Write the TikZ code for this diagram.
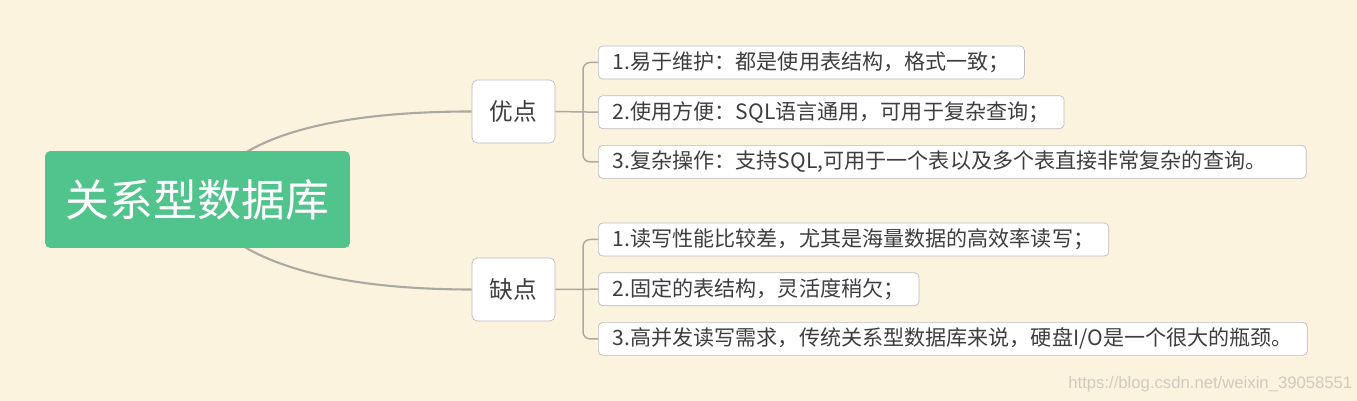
\documentclass[tikz,border=0pt]{standalone}
\usepackage{fontspec}
\setmainfont{Liberation Sans}
\newfontfamily\cjkfont{Noto Sans CJK SC}
\usepackage{tikz}
\usetikzlibrary{positioning, calc, backgrounds}
\definecolor{mapBg}{RGB}{251,243,221}
\definecolor{rootFill}{RGB}{81,196,141}
\definecolor{boxEdge}{RGB}{188,188,188}
\definecolor{linkCol}{RGB}{172,168,162}
\definecolor{txtCol}{RGB}{62,62,62}
\definecolor{markCol}{RGB}{208,203,192}

\begin{document}
\begin{tikzpicture}[
    x=0.02cm, y=-0.02cm,
    node distance=0.32cm and 0.3cm,
    rootbox/.style={rectangle, fill=rootFill, rounded corners=3pt, minimum width=6.1cm, minimum height=1.94cm, text=white, font=\cjkfont\fontsize{25}{30}\selectfont},
    branch/.style={rectangle, draw=boxEdge, fill=white, rounded corners=3pt, minimum width=1.66cm, minimum height=1.26cm, text=txtCol, font=\cjkfont\fontsize{13.5}{16}\selectfont},
    leaf/.style={rectangle, draw=boxEdge, fill=white, rounded corners=2.5pt, minimum height=0.66cm, inner xsep=0.29cm, inner ysep=0pt, text=txtCol, font=\cjkfont\fontsize{12}{14}\selectfont},
    link/.style={draw=linkCol, line width=1.2pt},
    twig/.style={draw=linkCol, line width=0.85pt, rounded corners=4pt},
    wmark/.style={text=markCol, font=\fontsize{9.5}{11}\selectfont, inner sep=0pt}
]
\useasboundingbox (0,0) rectangle (1357,401);

% Root
\node[rootbox] (root) at (197.5,199.5) {关系型数据库};

% Pros / cons
\node[branch] (pro) at (513.5,111.5) {优点};
\node[branch] (con) at (513.5,289.5) {缺点};

% Pros leaves
\node[leaf, anchor=west] (p1) at (598,62.5) {1.易于维护：都是使用表结构，格式一致；};
\node[leaf, below right=0.32cm and 0cm of p1.south west] (p2) {2.使用方便：SQL语言通用，可用于复杂查询；};
\node[leaf, below right=0.32cm and 0cm of p2.south west, text width=13.58cm, align=left] (p3) {3.复杂操作：支持SQL,可用于一个表以及多个表直接非常复杂的查询。};

% Cons leaves
\node[leaf, anchor=west] (c1) at (598,239.5) {1.读写性能比较差，尤其是海量数据的高效率读写；};
\node[leaf, below right=0.32cm and 0cm of c1.south west] (c2) {2.固定的表结构，灵活度稍欠；};
\node[leaf, below right=0.32cm and 0cm of c2.south west] (c3) {3.高并发读写需求，传统关系型数据库来说，硬盘I/O是一个很大的瓶颈。};

% Watermark
\node[wmark, anchor=west] (wm) at (1068,384) {https://blog.csdn.net/weixin\_39058551};

% Background and curves
\begin{pgfonlayer}{background}
\fill[mapBg] (0,0) rectangle (1357,401);
\draw[link] ($(root.north)+(48,2)$) .. controls (300,120) and (390,111.5) .. (pro.west);
\draw[link] ($(root.south)+(46,-2)$) .. controls (300,280) and (390,289.5) .. (con.west);
\end{pgfonlayer}

% Brackets
\draw[twig] (pro.east) -- (p2.west);
\draw[twig] (p1.west) -- ++(-15,0) |- (p3.west);
\draw[twig] (con.east) -- (c2.west);
\draw[twig] (c1.west) -- ++(-15,0) |- (c3.west);

\end{tikzpicture}
\end{document}
